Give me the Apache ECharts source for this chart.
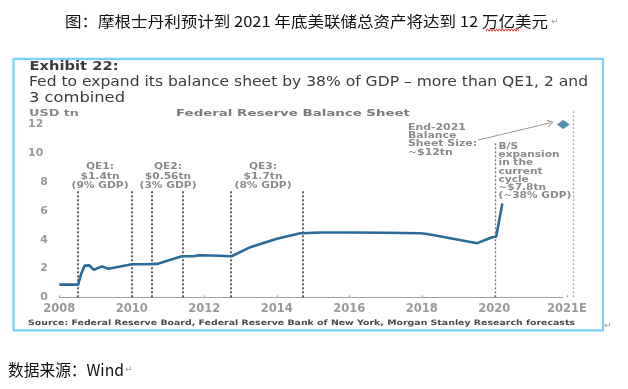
<!DOCTYPE html>
<html><head><meta charset="utf-8">
<script src="https://cdn.jsdelivr.net/npm/echarts@6/dist/echarts.min.js"></script>
<style>html,body{margin:0;padding:0;background:#fff}#c{width:628px;height:389px}</style>
</head><body><div id="c"></div>
<script>
// ---- data ----
const dates = [2008.00, 2008.52, 2008.60, 2008.70, 2008.83, 2008.95, 2009.08, 2009.18, 2009.35, 2009.50, 2009.68, 2010.00, 2010.35, 2010.70, 2011.00, 2011.38, 2011.70, 2011.85, 2012.20, 2012.75, 2013.27, 2014.00, 2014.65, 2015.20, 2016.00, 2017.00, 2017.96, 2018.15, 2019.53, 2019.71, 2019.94, 2020.05, 2020.22];
const fedAssets = [0.88, 0.88, 1.60, 2.20, 2.22, 1.90, 2.05, 2.14, 1.98, 2.05, 2.14, 2.30, 2.30, 2.32, 2.55, 2.85, 2.85, 2.92, 2.90, 2.85, 3.48, 4.06, 4.45, 4.50, 4.50, 4.48, 4.45, 4.40, 3.76, 3.94, 4.17, 4.20, 6.52];
const forecastDates = [2021.9];
const forecastValues = [12.0];
const qeLineDates = [2008.51, 2010.0, 2010.55, 2011.4, 2012.74, 2014.72];
const qeLineTop = 7.4;
const cycleStart = 2020.02, cycleStartTop = 10.8;
const boxRight = 2022.19, boxRightTop = 13.0;
const arrowFrom = [2019.55, 10.92], arrowTo = [2021.55, 12.12];
const xTicks = [2008, 2010, 2012, 2014, 2016, 2018, 2020, 2022];
const xTickLabels = ['2008', '2010', '2012', '2014', '2016', '2018', '2020', '2021E'];
const yTicks = [0, 2, 4, 6, 8, 10, 12];
const qeLabels = [['QE1:', '$1.4tn', '(9% GDP)'], ['QE2:', '$0.56tn', '(3% GDP)'], ['QE3:', '$1.7tn', '(8% GDP)']];
const endLabel = ['End-2021', 'Balance', 'Sheet Size:', '~$12tn'];
const bsLabel = ['B/S', 'expansion', 'in the', 'current', 'cycle', '~$7.8tn', '(~38% GDP)'];
const chartTitle = '图：摩根士丹利预计到 2021 年底美联储总资产将达到 12 万亿美元';
const exhibit = 'Exhibit 22:';
const subtitle1 = 'Fed to expand its balance sheet by 38% of GDP – more than QE1, 2 and';
const subtitle2 = '3 combined';
const unitLabel = 'USD tn';
const plotTitle = 'Federal Reserve Balance Sheet';
const sourceText = 'Source: Federal Reserve Board, Federal Reserve Bank of New York, Morgan Stanley Research forecasts';
const footText = '数据来源：Wind';

// ---- helpers ----
const cv = document.createElement('canvas').getContext('2d');
function measure(text, font) { cv.font = font; return cv.measureText(text).width; }
const EN = '"DejaVu Sans"';
const CJK = '"Noto Sans CJK SC"';
const graphics = [];
function txt(text, x, y, font, fill, target, align) {
  const s = target ? target / measure(text, font) : 1;
  graphics.push({ type: 'text', x: x, y: y, scaleX: s, silent: true, z: 10,
    style: { text: text, font: font, fill: fill, align: align || 'left', verticalAlign: 'middle' } });
}

// frame
graphics.push({ type: 'rect', silent: true, z: 0, shape: { x: 13.5, y: 58.8, width: 589.5, height: 271.5 },
  style: { fill: 'none', stroke: '#7cd2f6', lineWidth: 2.2 } });
// title
txt(chartTitle, 65, 21.5, '15px ' + CJK, '#111', 483);
txt('↵', 551, 22, '9px ' + EN, '#999');
// red spell underline
const zz = []; for (let i = 0; i <= 22; i++) zz.push([486 + i * 1.5, i % 2 ? 28.8 : 31.2]);
graphics.push({ type: 'polyline', silent: true, shape: { points: zz }, style: { stroke: '#e02020', lineWidth: 0.9, fill: 'none' } });
// headings
txt(exhibit, 29.5, 67, 'bold 12.5px ' + EN, '#3a3a3a', 89);
txt(subtitle1, 29, 82.5, '13.5px ' + EN, '#3c3c3c', 559);
txt(subtitle2, 29, 98.5, '13.5px ' + EN, '#3c3c3c', 96);
txt(unitLabel, 29, 114, 'bold 8.5px ' + EN, '#888', 50);
txt(plotTitle, 176, 113.5, 'bold 9px ' + EN, '#7a7a7a', 234);
// QE labels
const qeCenters = [100, 168, 263];
const qeScale = 57 / measure('(9% GDP)', 'bold 8.5px ' + EN);
qeLabels.forEach((lines, k) => lines.forEach((t, j) => {
  txt(t, qeCenters[k], 167 + j * 9.5, 'bold 8.5px ' + EN, '#8a8a8a', measure(t, 'bold 8.5px ' + EN) * qeScale, 'center');
}));
// end-2021 label
const endScale = 69 / measure('Sheet Size:', 'bold 8px ' + EN);
endLabel.forEach((t, j) => txt(t, 408, 127.7 + j * 8.35, 'bold 8px ' + EN, '#8a8a8a', measure(t, 'bold 8px ' + EN) * endScale));
const bsScale = 61 / measure('expansion', 'bold 8px ' + EN);
bsLabel.forEach((t, j) => txt(t, 498.5, 147 + j * 8.15, 'bold 8px ' + EN, '#8a8a8a', measure(t, 'bold 8px ' + EN) * bsScale));
// source
txt(sourceText, 28, 323.5, 'bold 7.5px ' + EN, '#4a4a4a', 547);
txt('↵', 604, 326, '9px ' + EN, '#999');
txt(footText, 8, 370, '16px ' + CJK, '#111', 116);
txt('↵', 125, 370, '9px ' + EN, '#999');

// ---- chart ----
const chart = echarts.init(document.getElementById('c'), null, { renderer: 'canvas' });
const dotted = (c, w) => ({ color: c, width: w, type: [2, 2] });
const markData = [
  [{ coord: [xTicks[0], 0], lineStyle: { color: '#a0a0a0', width: 1, type: 'solid' } }, { coord: [forecastDates[0], 0] }],
  ...qeLineDates.map(d => [{ coord: [d, 0], lineStyle: dotted('#3a3a3a', 1.6) }, { coord: [d, qeLineTop] }]),
  [{ coord: [cycleStart, 0], lineStyle: dotted('#7a7a7a', 1.4) }, { coord: [cycleStart, cycleStartTop] }],
  [{ coord: [boxRight, 0], lineStyle: dotted('#a8a8a8', 1.4) }, { coord: [boxRight, boxRightTop] }]
];
chart.setOption({
  animation: false,
  backgroundColor: '#fff',
  grid: { left: 59.3, right: 53.9, top: 110.1, bottom: 91.7 },
  xAxis: {
    type: 'value', min: 2008, max: 2022.2,
    axisLine: { show: false },
    axisTick: { show: true, customValues: xTicks, length: 2, inside: true, lineStyle: { color: '#999' } },
    splitLine: { show: false },
    axisLabel: { customValues: xTicks, margin: 6, fontFamily: 'DejaVu Sans', fontWeight: 'bold', fontSize: 11.5, color: '#9a9a9a',
      formatter: v => xTickLabels[xTicks.indexOf(v)] || '' }
  },
  yAxis: {
    type: 'value', min: 0, max: 13,
    axisLine: { show: false }, axisTick: { show: false }, splitLine: { show: false },
    axisLabel: { customValues: yTicks, margin: 11.5, fontFamily: 'DejaVu Sans', fontWeight: 'bold', fontSize: 11, color: '#9a9a9a',
      formatter: v => v >= 10 ? '{w|' + v + '}' : String(v),
      rich: { w: { padding: [0, 4.5, 0, 0], fontFamily: 'DejaVu Sans', fontWeight: 'bold', fontSize: 11, color: '#9a9a9a' } } }
  },
  series: [
    {
      type: 'line', data: dates.map((d, i) => [d, fedAssets[i]]), showSymbol: false, symbol: 'none',
      lineStyle: { color: '#2a6b98', width: 2.6 }, z: 5, clip: false,
      markLine: { silent: true, symbol: ['none', 'none'], label: { show: false }, data: markData, z: 3 }
    },
    {
      type: 'scatter', data: forecastDates.map((d, i) => [d, forecastValues[i]]), symbol: 'diamond', symbolSize: [13, 9],
      itemStyle: { color: '#2b6f9f' }, z: 6, clip: false,
      markLine: { silent: true, symbol: ['none', 'path://M0,10 L5,0 L10,10 L8.6,10 L5,2.6 L1.4,10 Z'], symbolSize: [8, 6],
        label: { show: false }, lineStyle: { color: '#8a8a8a', width: 0.9, type: 'solid' },
        data: [[{ coord: arrowFrom }, { coord: arrowTo }]] }
    }
  ],
  graphic: graphics
});
</script></body></html>
